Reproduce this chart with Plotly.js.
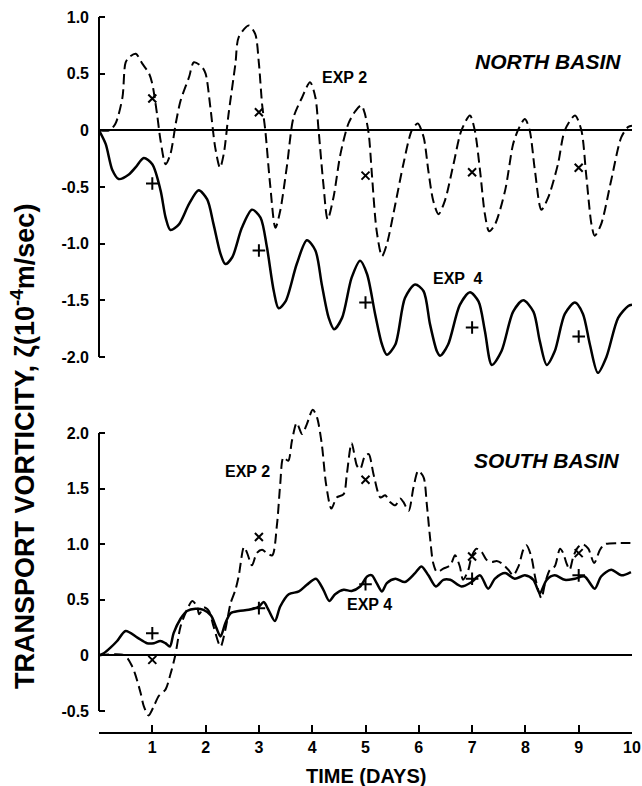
<!DOCTYPE html>
<html>
<head>
<meta charset="utf-8">
<script src="https://cdn.plot.ly/plotly-3.0.1.min.js"></script>
<style>html,body{margin:0;padding:0;background:#fff;}#chart{width:642px;height:786px;}</style>
</head>
<body>
<div id="chart"></div>
<script>
// ---------- data ----------
const northExp2Days = [0,0.2,0.31,0.44,0.5,0.58,0.69,0.81,0.94,1.0,1.09,1.155,1.25,1.34,1.44,1.53,1.69,1.78,1.93,2.0,2.09,2.18,2.27,2.34,2.43,2.56,2.62,2.81,2.93,3.0,3.06,3.12,3.21,3.31,3.40,3.53,3.65,3.81,3.96,4.06,4.12,4.21,4.29,4.40,4.53,4.68,4.81,4.92,4.98,5.06,5.12,5.21,5.31,5.40,5.56,5.71,5.87,5.98,6.09,6.18,6.27,6.37,6.49,6.65,6.80,6.96,7.05,7.15,7.24,7.32,7.43,7.62,7.77,7.87,7.99,8.08,8.18,8.30,8.43,8.61,8.74,8.93,9.05,9.14,9.24,9.30,9.42,9.61,9.80,9.93,10.0];
const northExp2Vals = [0,0,0.06,0.29,0.60,0.65,0.675,0.59,0.50,0.41,0.14,-0.09,-0.30,-0.21,0.06,0.26,0.47,0.60,0.56,0.50,0.20,-0.15,-0.33,-0.21,0.14,0.59,0.82,0.925,0.85,0.59,0.23,0,-0.475,-0.86,-0.71,-0.30,0.115,0.29,0.425,0.29,0,-0.475,-0.785,-0.59,-0.21,0.06,0.17,0.22,0.16,-0.03,-0.39,-0.89,-1.11,-1.005,-0.65,-0.30,0,0.06,-0.06,-0.36,-0.62,-0.74,-0.62,-0.30,0,0.13,0,-0.36,-0.74,-0.89,-0.83,-0.53,-0.12,0.01,0.10,0,-0.36,-0.70,-0.59,-0.30,0,0.13,0,-0.39,-0.83,-0.93,-0.83,-0.44,-0.06,0.03,0.04];

const northExp4Days = [0,0.125,0.25,0.37,0.56,0.69,0.84,1.0,1.155,1.25,1.34,1.50,1.69,1.87,2.03,2.15,2.28,2.37,2.50,2.68,2.87,3.03,3.15,3.28,3.37,3.50,3.71,3.90,4.06,4.18,4.31,4.41,4.56,4.74,4.90,5.03,5.18,5.31,5.40,5.56,5.74,5.93,6.09,6.21,6.34,6.40,6.55,6.77,6.96,7.12,7.24,7.37,7.55,7.77,7.96,8.15,8.27,8.40,8.55,8.74,8.93,9.08,9.21,9.36,9.52,9.74,9.93,10.0];
const northExp4Vals = [0,-0.12,-0.35,-0.43,-0.39,-0.325,-0.245,-0.30,-0.53,-0.77,-0.88,-0.83,-0.65,-0.53,-0.61,-0.83,-1.09,-1.18,-1.12,-0.86,-0.70,-0.77,-1.03,-1.42,-1.57,-1.51,-1.18,-0.97,-1.06,-1.36,-1.655,-1.755,-1.655,-1.30,-1.15,-1.27,-1.62,-1.89,-1.98,-1.89,-1.48,-1.36,-1.42,-1.71,-1.95,-1.99,-1.89,-1.54,-1.43,-1.51,-1.77,-2.07,-1.95,-1.60,-1.50,-1.60,-1.86,-2.07,-1.95,-1.62,-1.52,-1.62,-1.89,-2.14,-2.0,-1.655,-1.55,-1.54];

const southExp2Days = [0,0.48,0.62,0.68,0.78,0.84,0.93,1.03,1.12,1.25,1.34,1.43,1.53,1.65,1.75,1.84,1.88,1.97,2.06,2.15,2.28,2.37,2.47,2.56,2.62,2.72,2.78,2.87,2.96,3.06,3.15,3.25,3.34,3.40,3.46,3.55,3.62,3.71,3.81,3.90,4.01,4.09,4.18,4.26,4.36,4.46,4.59,4.65,4.74,4.84,4.90,4.99,5.06,5.15,5.28,5.37,5.46,5.56,5.65,5.71,5.81,5.90,5.99,6.09,6.15,6.21,6.27,6.34,6.46,6.59,6.68,6.77,6.83,6.93,6.99,7.08,7.18,7.27,7.37,7.46,7.55,7.68,7.77,7.87,7.96,8.02,8.11,8.18,8.24,8.30,8.37,8.46,8.55,8.65,8.71,8.77,8.83,8.90,8.99,9.08,9.18,9.29,9.40,9.49,9.74,9.97];
const southExp2Vals = [0,0,-0.096,-0.17,-0.335,-0.455,-0.54,-0.455,-0.365,-0.305,-0.17,0,0.26,0.41,0.49,0.44,0.37,0.43,0.40,0.26,0.08,0.23,0.47,0.59,0.71,0.975,0.92,0.81,0.92,0.95,0.92,0.90,1.18,1.54,1.78,1.75,1.93,2.09,1.99,2.08,2.21,2.14,1.90,1.54,1.32,1.42,1.45,1.63,1.91,1.705,1.675,1.795,1.81,1.63,1.42,1.44,1.38,1.35,1.41,1.38,1.30,1.51,1.66,1.60,1.36,1.065,0.83,0.75,0.78,0.81,0.90,0.80,0.68,0.77,0.89,0.96,0.93,0.86,0.84,0.85,0.83,0.77,0.72,0.80,0.95,0.99,0.89,0.71,0.59,0.515,0.65,0.77,0.80,0.96,0.92,0.83,0.77,0.89,0.975,1.0,0.96,0.83,0.95,1.0,1.01,1.01];

const southExp4Days = [0,0.09,0.215,0.34,0.50,0.72,0.90,1.03,1.15,1.245,1.33,1.40,1.53,1.65,1.81,1.96,2.10,2.20,2.28,2.37,2.47,2.62,2.81,3.0,3.09,3.18,3.30,3.40,3.56,3.75,3.90,4.07,4.21,4.32,4.43,4.59,4.74,4.90,5.03,5.12,5.21,5.31,5.40,5.56,5.74,5.93,6.05,6.18,6.32,6.46,6.59,6.80,6.99,7.15,7.30,7.43,7.62,7.80,7.99,8.15,8.27,8.40,8.55,8.74,8.93,9.11,9.30,9.42,9.61,9.80,9.98];
const southExp4Vals = [0,0.02,0.07,0.13,0.22,0.16,0.11,0.11,0.13,0.11,0.08,0.20,0.33,0.40,0.42,0.41,0.36,0.25,0.17,0.29,0.38,0.40,0.41,0.44,0.48,0.41,0.31,0.44,0.55,0.575,0.635,0.69,0.59,0.49,0.55,0.59,0.58,0.62,0.71,0.72,0.65,0.575,0.65,0.69,0.66,0.74,0.80,0.72,0.62,0.68,0.68,0.62,0.66,0.72,0.60,0.69,0.74,0.69,0.72,0.68,0.56,0.68,0.72,0.68,0.69,0.71,0.60,0.71,0.77,0.72,0.75];

const markerDays = [1,3,5,7,9];
const northExp2Marks = [0.28,0.16,-0.40,-0.37,-0.33];
const northExp4Marks = [-0.47,-1.06,-1.52,-1.74,-1.82];
const southExp2Marks = [-0.04,1.065,1.58,0.89,0.92];
const southExp4Marks = [0.20,0.425,0.64,0.69,0.72];

const xTickVals = [1,2,3,4,5,6,7,8,9,10];
const xTickText = ['1','2','3','4','5','6','7','8','9','10'];
const xMinorTickVals = [0];
const northTickVals = [-2,-1.5,-1,-0.5,0,0.5,1];
const northTickText = ['-2.0','-1.5','-1.0','-0.5','0','0.5','1.0'];
const southTickVals = [-0.5,0,0.5,1,1.5,2];
const southTickText = ['-0.5','0','0.5','1.0','1.5','2.0'];

// ---------- traces ----------
const FONT = 'Liberation Sans, Arial, sans-serif';
const dashed = {color:'#000', width:2, dash:'10px,5px', shape:'spline', smoothing:0.8};
const solid = {color:'#000', width:2.5, shape:'spline', smoothing:0.8};
const xMark = {symbol:'x-thin', size:8, line:{color:'#000', width:2}, color:'#000'};
const pMark = {symbol:'cross-thin', size:9, line:{color:'#000', width:2}, color:'#000'};

const traces = [
  {x:northExp2Days, y:northExp2Vals, xaxis:'x', yaxis:'y', mode:'lines', line:dashed, name:'EXP 2 North'},
  {x:northExp4Days, y:northExp4Vals, xaxis:'x', yaxis:'y', mode:'lines', line:solid, name:'EXP 4 North'},
  {x:markerDays, y:northExp2Marks, xaxis:'x', yaxis:'y', mode:'markers', marker:xMark, name:'EXP 2 North obs'},
  {x:markerDays, y:northExp4Marks, xaxis:'x', yaxis:'y', mode:'markers', marker:pMark, name:'EXP 4 North obs'},
  {x:southExp2Days, y:southExp2Vals, xaxis:'x', yaxis:'y2', mode:'lines', line:dashed, name:'EXP 2 South'},
  {x:southExp4Days, y:southExp4Vals, xaxis:'x', yaxis:'y2', mode:'lines', line:solid, name:'EXP 4 South'},
  {x:markerDays, y:southExp2Marks, xaxis:'x', yaxis:'y2', mode:'markers', marker:xMark, name:'EXP 2 South obs'},
  {x:markerDays, y:southExp4Marks, xaxis:'x', yaxis:'y2', mode:'markers', marker:pMark, name:'EXP 4 South obs'}
];

const tickFont = {family:FONT, size:16, color:'#000', weight:'bold'};
const yCommon = {
  showline:false, showgrid:false, zeroline:true, zerolinecolor:'#000', zerolinewidth:2,
  ticks:'inside', ticklen:6, tickwidth:2, tickcolor:'#000', tickmode:'array',
  tickfont:tickFont, ticklabelstandoff:9, fixedrange:true
};

const annFont = (s, it) => ({family:FONT, size:s, color:'#000', weight:'bold', style: it ? 'italic' : 'normal'});

const layout = {
  width:642, height:786,
  margin:{l:99, r:10, t:10, b:53},
  paper_bgcolor:'#fff', plot_bgcolor:'#fff',
  showlegend:false,
  xaxis:{range:[0,10], anchor:'free', position:0, showline:true, linecolor:'#000', linewidth:2,
         showgrid:false, zeroline:false, ticks:'inside', ticklen:7, tickwidth:2, tickcolor:'#000',
         tickmode:'array', tickvals:xTickVals, ticktext:xTickText, tickfont:tickFont, fixedrange:true,
         minor:{tickmode:'array', tickvals:xMinorTickVals, ticks:'inside', ticklen:7, tickwidth:2, tickcolor:'#000', showgrid:false}},
  yaxis:Object.assign({}, yCommon, {domain:[0.4809,0.9982], range:[-2.25,1.05], anchor:'x',
         tickvals:northTickVals, ticktext:northTickText}),
  yaxis2:Object.assign({}, yCommon, {domain:[0.0073,0.4611], range:[-0.65,2.3], anchor:'x',
         tickvals:southTickVals, ticktext:southTickText}),
  shapes:[
    {type:'line', xref:'paper', yref:'y', x0:0, x1:0, y0:-2, y1:1, line:{color:'#000', width:2}},
    {type:'line', xref:'paper', yref:'y2', x0:0, x1:0, y0:-0.5, y1:2, line:{color:'#000', width:2}}
  ],
  annotations:[
    {text:'NORTH BASIN', xref:'x', yref:'y', x:8.42, y:0.609, showarrow:false, font:annFont(21,true)},
    {text:'EXP 2', xref:'x', yref:'y', x:4.615, y:0.463, showarrow:false, font:annFont(16)},
    {text:'EXP  4', xref:'x', yref:'y', x:6.73, y:-1.306, showarrow:false, font:annFont(16)},
    {text:'SOUTH BASIN', xref:'x', yref:'y2', x:8.41, y:1.754, showarrow:false, font:annFont(21,true)},
    {text:'EXP 2', xref:'x', yref:'y2', x:2.795, y:1.65, showarrow:false, font:annFont(16)},
    {text:'EXP 4', xref:'x', yref:'y2', x:5.08, y:0.459, showarrow:false, font:annFont(16)},
    {text:'TIME (DAYS)', xref:'paper', yref:'paper', x:0.5, y:-0.0595, yanchor:'middle', showarrow:false, font:annFont(20)},
    {text:'TRANSPORT VORTICITY, ζ(10<sup>-4</sup>m/sec)', xref:'paper', yref:'paper', x:-0.1426, y:0.397,
     xanchor:'center', yanchor:'middle', textangle:-90, showarrow:false, font:annFont(27)}
  ]
};

Plotly.newPlot('chart', traces, layout, {staticPlot:true, displayModeBar:false});
</script>
</body>
</html>
